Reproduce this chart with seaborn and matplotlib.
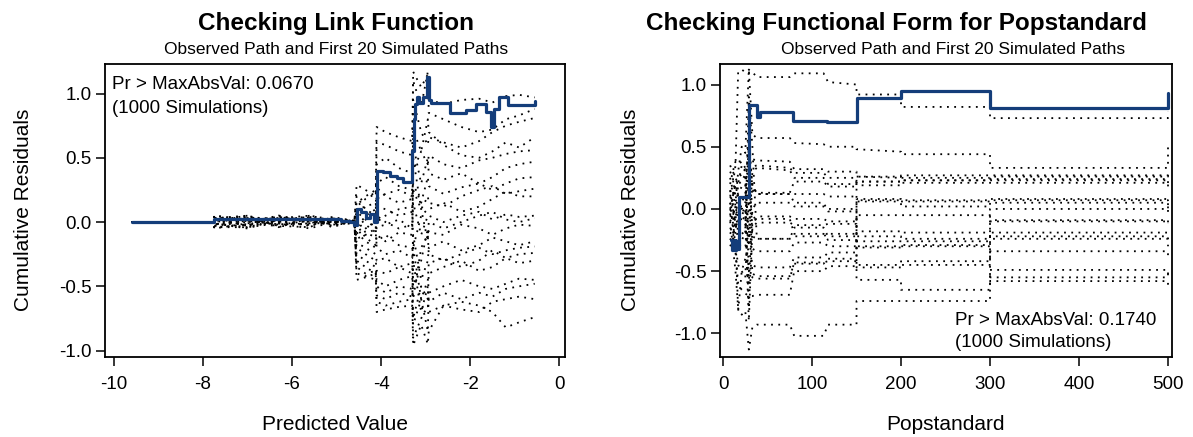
import matplotlib
matplotlib.use("Agg")
import matplotlib.pyplot as plt
import pandas as pd
import seaborn as sns

# ---- Checking Link Function: simulated paths share this x grid ----
link_x = [-9.6, -7.75, -7.75, -7.0, -6.3, -5.6, -5.1, -4.6, -4.55, -4.35, -4.12, -4.1, -3.9,
          -3.6, -3.3, -3.28, -3.1, -2.95, -2.93, -2.6, -2.2, -1.8, -1.5, -1.2, -0.9, -0.55]
link_start = [0.0, 0.0]
link_sim_01 = [0.03, 0.04, 0.02, 0.03, 0.01, 0.00, 0.12, 0.18, 0.22, 0.74, 0.70, 0.66, 0.63, 1.17, 1.05, 1.15, 0.95, 0.92, 0.95, 0.96, 0.93, 0.98, 0.99, 0.97]
link_sim_02 = [-0.02, 0.01, 0.04, -0.01, 0.02, 0.00, 0.29, 0.25, 0.20, 0.45, 0.50, 0.42, 0.38, 1.10, 0.90, 1.17, 0.85, 0.80, 0.74, 0.70, 0.72, 0.80, 0.83, 0.88]
link_sim_03 = [0.05, 0.02, 0.03, 0.05, 0.02, 0.01, 0.20, 0.10, 0.05, 0.62, 0.60, 0.55, 0.52, 0.95, 0.70, 0.60, 0.66, 0.62, 0.58, 0.63, 0.70, 0.75, 0.78, 0.81]
link_sim_04 = [-0.04, -0.02, 0.00, 0.02, -0.01, 0.00, 0.15, 0.20, 0.25, 0.30, 0.35, 0.28, 0.25, 0.72, 0.55, 0.80, 0.70, 0.60, 0.52, 0.50, 0.55, 0.62, 0.58, 0.66]
link_sim_05 = [0.01, 0.03, -0.02, 0.01, 0.03, 0.01, 0.08, 0.02, -0.05, 0.27, 0.20, 0.15, 0.18, 0.40, 0.55, 0.45, 0.52, 0.45, 0.42, 0.48, 0.50, 0.53, 0.55, 0.56]
link_sim_06 = [0.02, -0.03, 0.05, 0.00, -0.02, 0.00, -0.05, 0.05, 0.10, 0.18, 0.22, 0.25, 0.20, 0.60, 0.30, 0.50, 0.38, 0.33, 0.38, 0.30, 0.35, 0.42, 0.45, 0.47]
link_sim_07 = [-0.03, 0.02, -0.04, 0.03, 0.00, -0.01, 0.05, -0.02, -0.08, 0.12, 0.10, 0.05, 0.08, 0.30, 0.15, 0.35, 0.28, 0.22, 0.27, 0.30, 0.25, 0.30, 0.34, 0.35]
link_sim_08 = [0.04, 0.00, 0.01, -0.03, 0.01, 0.00, -0.10, -0.05, 0.00, 0.05, 0.00, -0.05, -0.02, 0.25, 0.10, 0.20, 0.15, 0.12, 0.20, 0.25, 0.28, 0.22, 0.24, 0.26]
link_sim_09 = [-0.01, -0.04, 0.02, 0.04, -0.03, 0.01, 0.10, 0.12, 0.15, 0.00, 0.05, 0.10, 0.12, -0.20, 0.05, 0.10, 0.10, 0.15, 0.08, 0.12, 0.18, 0.24, 0.20, 0.20]
link_sim_10 = [0.03, 0.05, -0.01, -0.02, 0.02, 0.00, 0.02, -0.08, -0.12, -0.04, -0.02, 0.02, -0.05, 0.15, -0.10, 0.05, 0.05, 0.00, 0.05, 0.08, 0.02, 0.06, 0.04, 0.05]
link_sim_11 = [-0.05, -0.01, 0.03, 0.02, -0.02, -0.01, -0.02, -0.12, -0.18, -0.10, -0.15, -0.08, -0.10, 0.50, 0.10, -0.15, 0.00, -0.05, 0.00, 0.05, 0.08, 0.02, 0.00, 0.03]
link_sim_12 = [0.00, 0.03, -0.03, -0.04, 0.04, 0.01, -0.08, -0.15, -0.20, -0.15, -0.10, -0.18, -0.20, -0.50, -0.30, -0.05, -0.08, -0.10, -0.02, -0.05, -0.10, -0.05, -0.02, -0.03]
link_sim_13 = [0.02, -0.02, 0.04, 0.01, 0.00, 0.00, -0.13, -0.10, -0.05, -0.20, -0.25, -0.22, -0.28, -0.10, -0.45, -0.30, -0.20, -0.15, -0.22, -0.18, -0.12, -0.15, -0.18, -0.15]
link_sim_14 = [-0.02, 0.04, 0.00, 0.05, 0.01, -0.01, -0.16, -0.20, -0.25, -0.30, -0.28, -0.35, -0.32, -0.60, -0.20, -0.10, -0.25, -0.30, -0.25, -0.20, -0.25, -0.22, -0.20, -0.19]
link_sim_15 = [0.05, 0.01, -0.02, -0.01, 0.03, 0.00, -0.20, -0.25, -0.30, -0.38, -0.40, -0.35, -0.40, -0.20, -0.60, -0.45, -0.32, -0.28, -0.35, -0.30, -0.22, -0.28, -0.25, -0.24]
link_sim_16 = [-0.01, -0.05, 0.02, 0.03, -0.04, 0.01, -0.25, -0.30, -0.35, -0.45, -0.50, -0.45, -0.42, -0.75, -0.50, -0.60, -0.40, -0.35, -0.30, -0.38, -0.35, -0.28, -0.32, -0.30]
link_sim_17 = [0.03, -0.03, 0.00, -0.02, 0.00, 0.00, -0.30, -0.35, -0.40, -0.50, -0.55, -0.50, -0.52, -0.80, -0.60, -0.85, -0.55, -0.50, -0.45, -0.50, -0.52, -0.48, -0.44, -0.45]
link_sim_18 = [-0.03, 0.00, 0.05, 0.00, 0.02, -0.01, -0.35, -0.40, -0.38, -0.57, -0.60, -0.55, -0.58, -0.30, -0.70, -0.50, -0.62, -0.55, -0.60, -0.55, -0.58, -0.52, -0.50, -0.48]
link_sim_19 = [0.01, 0.05, -0.04, 0.04, -0.01, 0.00, -0.40, -0.42, -0.45, -0.62, -0.65, -0.62, -0.60, -0.90, -0.75, -0.65, -0.70, -0.65, -0.68, -0.70, -0.62, -0.60, -0.58, -0.60]
link_sim_20 = [-0.04, -0.04, -0.01, -0.05, 0.00, 0.01, -0.45, -0.43, -0.40, -0.70, -0.68, -0.66, -0.65, -0.96, -0.80, -0.95, -0.85, -0.65, -0.62, -0.65, -0.70, -0.82, -0.78, -0.74]

obs_link_x = [-9.6, -7.75, -7.0, -6.3, -5.6, -5.1, -4.9, -4.7, -4.6, -4.55, -4.45, -4.35, -4.25,
              -4.15, -4.1, -3.95, -3.8, -3.65, -3.5, -3.3, -3.27, -3.24, -3.2, -3.15, -3.05,
              -2.97, -2.93, -2.88, -2.45, -2.1, -1.87, -1.65, -1.53, -1.47, -1.35, -1.15, -0.55]
obs_link_y = [0.0, 0.025, 0.025, 0.025, 0.025, 0.02, 0.01, 0.0, -0.02, 0.10, 0.08, 0.03, 0.06,
              0.0, 0.40, 0.39, 0.36, 0.34, 0.31, 0.55, 0.80, 0.92, 0.97, 0.93, 0.97,
              1.13, 0.95, 0.93, 0.85, 0.87, 0.92, 0.86, 0.74, 0.88, 0.97, 0.91, 0.94]

# ---- Checking Functional Form for Popstandard ----
pop_x = [8, 11, 14, 17, 21, 25, 29, 33, 38, 75, 80, 113, 118, 150, 150, 200, 200, 300, 300, 500, 500]
pop_sim_01 = [0.10, 0.20, 0.35, 1.10, 1.12, 1.10, 1.12, 1.10, 1.06, 1.06, 1.09, 1.09, 1.02, 1.00, 0.92, 0.92, 0.82, 0.82, 0.73, 0.73, 0.78]
pop_sim_02 = [0.00, -0.10, 0.05, 0.30, 0.50, 0.45, 1.12, 0.60, 0.57, 0.57, 0.53, 0.52, 0.50, 0.50, 0.48, 0.46, 0.44, 0.44, 0.33, 0.33, 0.50]
pop_sim_03 = [0.20, 0.30, 0.38, 0.36, 0.38, 0.33, 0.35, 0.40, 0.39, 0.38, 0.32, 0.32, 0.30, 0.30, 0.26, 0.25, 0.27, 0.27, 0.27, 0.27, 0.25]
pop_sim_04 = [0.15, 0.10, 0.20, 0.25, 0.28, 0.32, 0.30, 0.34, 0.35, 0.33, 0.29, 0.29, 0.25, 0.25, 0.22, 0.22, 0.23, 0.23, 0.24, 0.24, 0.20]
pop_sim_05 = [-0.05, 0.10, 0.15, 0.12, 0.18, 0.20, -0.20, 0.30, 0.33, 0.31, 0.25, 0.25, 0.20, 0.20, 0.19, 0.19, 0.21, 0.21, 0.21, 0.21, 0.18]
pop_sim_06 = [0.30, 0.25, 0.10, -0.10, 0.05, 0.12, 0.60, 0.15, 0.12, 0.12, 0.12, 0.12, 0.10, 0.10, 0.08, 0.08, 0.07, 0.07, 0.08, 0.08, 0.10]
pop_sim_07 = [-0.10, -0.05, 0.00, 0.05, 0.02, -0.05, -0.60, 0.00, 0.05, 0.05, 0.02, 0.02, 0.00, 0.00, 0.06, 0.06, 0.06, 0.06, 0.07, 0.07, 0.00]
pop_sim_08 = [0.05, 0.00, -0.10, -0.15, -0.10, -0.05, 0.20, -0.08, -0.06, -0.06, -0.08, -0.08, -0.10, -0.10, 0.07, 0.07, 0.02, 0.02, 0.05, 0.05, 0.02]
pop_sim_09 = [-0.20, -0.15, -0.05, 0.00, -0.10, -0.12, -0.90, -0.15, -0.11, -0.11, -0.13, -0.13, -0.12, -0.12, -0.18, -0.18, -0.19, -0.19, 0.00, 0.00, -0.05]
pop_sim_10 = [0.25, 0.15, 0.00, -0.20, -0.25, -0.20, 0.40, -0.22, -0.24, -0.24, -0.22, -0.22, -0.20, -0.20, -0.22, -0.22, -0.24, -0.24, -0.09, -0.09, -0.15]
pop_sim_11 = [-0.15, -0.20, -0.25, -0.30, -0.28, -0.30, -0.20, -0.32, -0.34, -0.34, -0.27, -0.27, -0.30, -0.30, -0.26, -0.26, -0.26, -0.26, -0.19, -0.19, -0.20]
pop_sim_12 = [0.10, 0.05, -0.20, -0.82, -0.50, -0.40, -0.45, -0.45, -0.47, -0.47, -0.39, -0.39, -0.35, -0.35, -0.31, -0.31, -0.29, -0.29, -0.22, -0.22, -0.30]
pop_sim_13 = [-0.05, -0.10, -0.30, -0.45, -0.50, -0.55, 0.10, -0.52, -0.54, -0.54, -0.44, -0.44, -0.40, -0.40, -0.47, -0.47, -0.42, -0.42, -0.24, -0.24, -0.28]
pop_sim_14 = [0.05, -0.15, -0.35, -0.60, -0.65, -0.68, -0.70, -0.70, -0.69, -0.69, -0.50, -0.50, -0.46, -0.46, -0.45, -0.45, -0.45, -0.45, -0.34, -0.34, -0.40]
pop_sim_15 = [-0.10, -0.30, -0.50, -0.80, -0.85, -0.82, -1.13, -0.95, -0.93, -0.93, -1.02, -1.02, -0.93, -0.93, -0.74, -0.74, -0.74, -0.74, -0.49, -0.49, -0.55]
pop_sim_16 = [0.15, 0.00, -0.12, -0.25, -0.20, -0.18, 0.90, 0.50, -0.24, -0.24, -0.15, -0.15, -0.22, -0.22, -0.57, -0.57, -0.65, -0.65, -0.55, -0.55, -0.50]
pop_sim_17 = [0.35, 0.30, 0.25, 0.20, 0.22, 0.28, -0.30, 0.20, 0.12, 0.12, 0.05, 0.05, -0.02, -0.02, -0.30, -0.30, -0.30, -0.30, -0.58, -0.58, -0.65]
pop_sim_18 = [-0.25, -0.20, -0.15, -0.10, -0.05, 0.00, -0.80, -0.10, -0.08, -0.08, -0.20, -0.20, -0.25, -0.25, 0.22, 0.22, 0.25, 0.25, 0.26, 0.26, 0.30]
pop_sim_19 = [0.00, 0.10, 0.20, 0.10, 0.00, 0.05, 0.50, 0.18, 0.13, 0.13, 0.22, 0.22, 0.18, 0.18, 0.26, 0.26, 0.23, 0.23, 0.23, 0.23, 0.25]
pop_sim_20 = [-0.30, -0.25, -0.10, 0.20, 0.35, 0.30, -0.50, -0.55, -0.56, -0.56, -0.43, -0.43, -0.42, -0.42, -0.05, -0.05, -0.05, -0.05, -0.10, -0.10, -0.12]

obs_pop_x = [9, 10, 11, 12, 13, 14, 15, 16, 17.5, 29, 38, 41, 79, 117, 150, 200, 300, 500]
obs_pop_y = [-0.25, -0.33, -0.26, -0.33, -0.25, -0.33, -0.26, -0.32, 0.10, 0.835, 0.74, 0.78,
             0.71, 0.695, 0.89, 0.95, 0.81, 0.93]

link_sims = [link_sim_01, link_sim_02, link_sim_03, link_sim_04, link_sim_05, link_sim_06, link_sim_07,
             link_sim_08, link_sim_09, link_sim_10, link_sim_11, link_sim_12, link_sim_13, link_sim_14,
             link_sim_15, link_sim_16, link_sim_17, link_sim_18, link_sim_19, link_sim_20]
pop_sims = [pop_sim_01, pop_sim_02, pop_sim_03, pop_sim_04, pop_sim_05, pop_sim_06, pop_sim_07,
            pop_sim_08, pop_sim_09, pop_sim_10, pop_sim_11, pop_sim_12, pop_sim_13, pop_sim_14,
            pop_sim_15, pop_sim_16, pop_sim_17, pop_sim_18, pop_sim_19, pop_sim_20]

OBS_COLOR = "#143d7a"
FIG_W, FIG_H = 1193, 437


def long_frame(xs, paths, start=None):
    rows = []
    for k, path in enumerate(paths):
        ys = (start or []) + path
        for xv, yv in zip(xs, ys):
            rows.append((k, xv, yv))
    return pd.DataFrame(rows, columns=["path", "x", "y"])


def draw_panel(ax, sim_df, obs_df):
    sns.lineplot(data=sim_df, x="x", y="y", units="path", estimator=None, sort=False,
                 color="black", linewidth=1.3, linestyle=(0, (1, 3)), ax=ax)
    sns.lineplot(data=obs_df, x="x", y="y", estimator=None, sort=False, color=OBS_COLOR,
                 linewidth=2.3, drawstyle="steps-post", ax=ax)
    ax.set_xlabel("")
    ax.set_ylabel("")
    for side in ["top", "right", "bottom", "left"]:
        ax.spines[side].set_visible(True)
        ax.spines[side].set_color("black")
        ax.spines[side].set_linewidth(1.3)
    ax.tick_params(direction="out", length=6.5, width=1.1, color="black", labelcolor="black",
                   labelsize=13.5)
    ax.tick_params(axis="x", pad=7)
    ax.tick_params(axis="y", pad=3)
    ax.yaxis.set_major_formatter(matplotlib.ticker.FormatStrFormatter("%.1f"))


sns.set_style("ticks")
plt.rcParams["font.family"] = ["Liberation Sans", "DejaVu Sans"]
plt.rcParams["axes.unicode_minus"] = False
plt.rcParams["text.color"] = "black"
plt.rcParams["axes.labelcolor"] = "black"

fig = plt.figure(figsize=(FIG_W / 100, FIG_H / 100), dpi=100)
ax1 = fig.add_axes([105 / FIG_W, 80 / FIG_H, 460 / FIG_W, 293 / FIG_H])
ax2 = fig.add_axes([720 / FIG_W, 80 / FIG_H, 452 / FIG_W, 293 / FIG_H])

draw_panel(ax1, long_frame(link_x, link_sims, link_start),
           pd.DataFrame({"x": obs_link_x, "y": obs_link_y}))
ax1.set_xlim(-10.2, 0.13)
ax1.set_ylim(-1.05, 1.23)
ax1.set_xticks([-10, -8, -6, -4, -2, 0])
ax1.set_yticks([-1.0, -0.5, 0.0, 0.5, 1.0])
ax1.text(0.015, 0.915, "Pr > MaxAbsVal: 0.0670", transform=ax1.transAxes, fontsize=13.5, va="baseline")
ax1.text(0.015, 0.833, "(1000 Simulations)", transform=ax1.transAxes, fontsize=13.5, va="baseline")

draw_panel(ax2, long_frame(pop_x, pop_sims), pd.DataFrame({"x": obs_pop_x, "y": obs_pop_y}))
ax2.set_xlim(-3.4, 504.5)
ax2.set_ylim(-1.19, 1.165)
ax2.set_xticks([0, 100, 200, 300, 400, 500])
ax2.set_yticks([-1.0, -0.5, 0.0, 0.5, 1.0])
ax2.text(0.52, 0.109, "Pr > MaxAbsVal: 0.1740", transform=ax2.transAxes, fontsize=13.5, va="baseline")
ax2.text(0.52, 0.034, "(1000 Simulations)", transform=ax2.transAxes, fontsize=13.5, va="baseline")

# titles and axis labels
fig.text(336 / FIG_W, 1 - 30 / FIG_H, "Checking Link Function", ha="center", va="baseline",
         fontsize=17.5, fontweight="bold")
fig.text(336 / FIG_W, 1 - 54 / FIG_H, "Observed Path and First 20 Simulated Paths", ha="center",
         va="baseline", fontsize=12.5)
fig.text(896 / FIG_W, 1 - 30 / FIG_H, "Checking Functional Form for Popstandard", ha="center",
         va="baseline", fontsize=17.5, fontweight="bold")
fig.text(953 / FIG_W, 1 - 54 / FIG_H, "Observed Path and First 20 Simulated Paths", ha="center",
         va="baseline", fontsize=12.5)

for ax, xlab, xc, yc in [(ax1, "Predicted Value", 335, 24), (ax2, "Popstandard", 946, 631)]:
    ax.set_xlabel(xlab, fontsize=15, va="baseline")
    ax.xaxis.set_label_coords(xc / FIG_W, 1 - 430 / FIG_H, transform=fig.transFigure)
    ax.set_ylabel("Cumulative Residuals", fontsize=15, va="center")
    ax.yaxis.set_label_coords(yc / FIG_W, 1 - 210 / FIG_H, transform=fig.transFigure)

fig.savefig("out.png", dpi=100)
